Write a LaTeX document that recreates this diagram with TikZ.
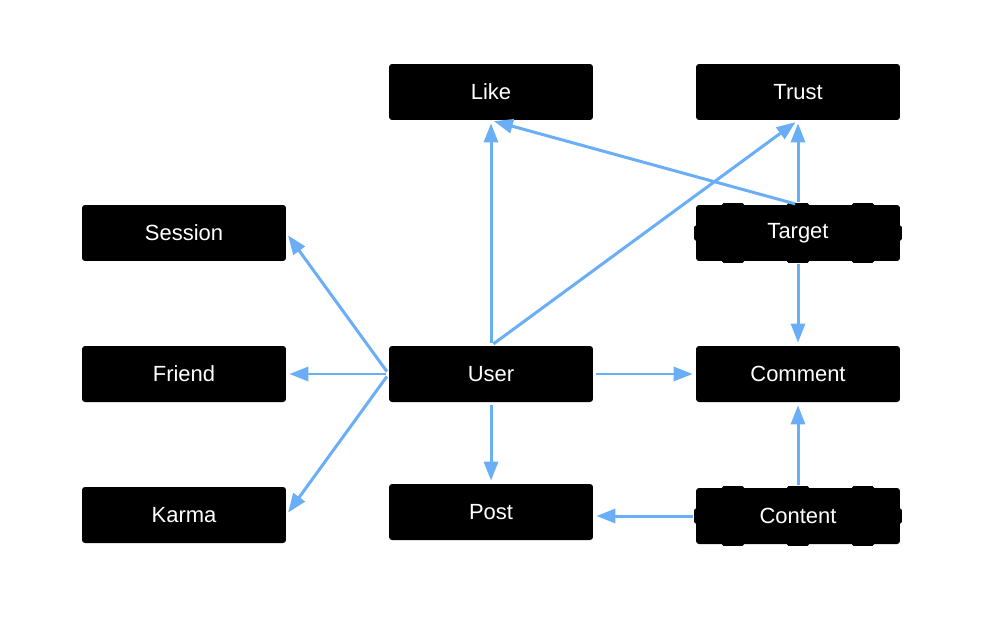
\documentclass[tikz,border=0pt]{standalone}
\usepackage{fontspec}
\setmainfont{Liberation Sans}
\usepackage{xcolor}
\usetikzlibrary{arrows.meta}

\definecolor{linkblue}{HTML}{6AAEF7}

\tikzset{
  entity/.style = {fill = black, text = white, rounded corners = 0.06cm,
    minimum width = 4.08cm, minimum height = 1.12cm, inner sep = 0pt,
    font = \fontsize{12.5}{14}\selectfont},
  link/.style = {draw = linkblue, line width = 1.7pt,
    -{Triangle[length = 0.38cm, width = 0.28cm]},
    shorten > = 0.06cm, shorten < = 0.06cm},
  handle/.style = {fill = black, rounded corners = 0.03cm}
}

\newcommand{\handles}[1]{
  \foreach \dx in {-1.3, 0, 1.3} {
    \fill[handle] ([xshift = \dx cm - 0.22cm, yshift = 0.03cm]#1.north) rectangle ([xshift = \dx cm + 0.22cm, yshift = -0.2cm]#1.north);
    \fill[handle] ([xshift = \dx cm - 0.22cm, yshift = -0.03cm]#1.south) rectangle ([xshift = \dx cm + 0.22cm, yshift = 0.2cm]#1.south);
  }
  \fill[handle] ([xshift = -0.03cm, yshift = -0.15cm]#1.west) rectangle ([xshift = 0.2cm, yshift = 0.15cm]#1.west);
  \fill[handle] ([xshift = 0.03cm, yshift = -0.15cm]#1.east) rectangle ([xshift = -0.2cm, yshift = 0.15cm]#1.east);
}

\begin{document}
\begin{tikzpicture}[x = 0.02cm, y = -0.02cm]
    \useasboundingbox[fill = white] (0, 0) rectangle (982, 635);

    \node[entity] (like) at (491, 92) {Like};
    \node[entity] (trust) at (798, 92) {Trust};
    \node[entity] (session) at (184, 233) {Session};
    \node[entity] (target) at (798, 233) {Target};
    \node[entity] (friend) at (184, 374) {Friend};
    \node[entity] (user) at (491, 374) {User};
    \node[entity] (comment) at (798, 374) {Comment};
    \node[entity] (karma) at (184, 515) {Karma};
    \node[entity] (post) at (491, 512) {Post};
    \node[entity] (content) at (798, 516) {Content};

    \handles{target}
    \handles{content}

    \draw[link] (user.north) -- (like.south);
    \draw[link] (user.north) -- (trust.south);
    \draw[link] (target.north) -- (like.south);
    \draw[link] (target.north) -- (trust.south);
    \draw[link] (target.south) -- (comment.north);
    \draw[link] (user.east) -- (comment.west);
    \draw[link] (user.south) -- (post.north);
    \draw[link] (content.north) -- (comment.south);
    \draw[link] (content.west) -- (post.east |- content.west);
    \draw[link] (user.west) -- (session.east);
    \draw[link] (user.west) -- (friend.east);
    \draw[link] (user.west) -- (karma.east);
  \end{tikzpicture}
\end{document}
